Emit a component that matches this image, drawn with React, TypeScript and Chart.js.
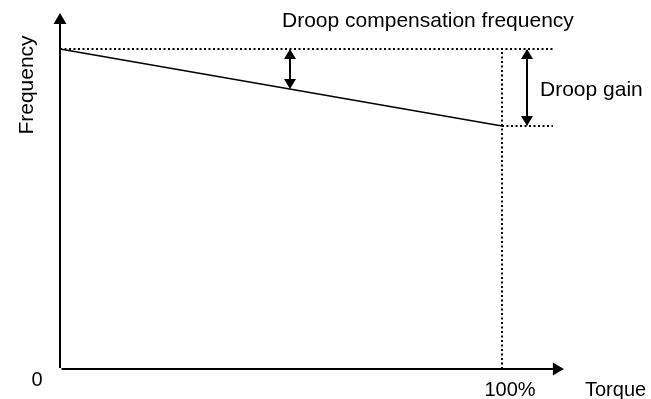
import React, { useEffect, useRef } from "react";
import { Chart, registerables } from "chart.js";

Chart.register(...registerables);

// Data (torque in %, frequency in arbitrary units of the y scale)
const droopTorque = [0, 100];
const droopFrequency = [80, 60.75];
const compensationFrequency = 80; // no-load frequency (dotted reference)
const fullLoadTorque = 100;
const dottedEndTorque = 111.5;
const xMax = 114;
const yMax = 89;
const gainArrowTorques = [52, 105.6];

const xTickLabels = ["0", "100%"];
const xAxisTitle = "Torque";
const yAxisTitle = "Frequency";
const topLabel = "Droop compensation frequency";
const gainLabel = "Droop gain";

const FONT = '"Liberation Sans", Arial, sans-serif';

function lineAt(t: number) {
  const [t0, t1] = droopTorque;
  const [f0, f1] = droopFrequency;
  return f0 + ((f1 - f0) * (t - t0)) / (t1 - t0);
}

const diagramPlugin = {
  id: "diagram",
  afterDraw(chart: any) {
    const ctx = chart.ctx as CanvasRenderingContext2D;
    const xs = chart.scales.x;
    const ys = chart.scales.y;
    const X = (v: number) => xs.getPixelForValue(v);
    const Y = (v: number) => ys.getPixelForValue(v);
    ctx.save();
    ctx.fillStyle = "#000";
    ctx.strokeStyle = "#000";

    // Y axis with arrow
    const x0 = X(0);
    const y0 = Y(0);
    const yTop = Y(yMax);
    ctx.lineWidth = 2;
    ctx.beginPath();
    ctx.moveTo(x0, y0 - 1);
    ctx.lineTo(x0, yTop + 8);
    ctx.stroke();
    ctx.beginPath();
    ctx.moveTo(x0, yTop);
    ctx.lineTo(x0 - 6.5, yTop + 11);
    ctx.lineTo(x0 + 6.5, yTop + 11);
    ctx.closePath();
    ctx.fill();

    // X axis with arrow
    const xRight = X(xMax);
    ctx.lineWidth = 2;
    ctx.beginPath();
    ctx.moveTo(x0 + 1.5, y0);
    ctx.lineTo(xRight - 8, y0);
    ctx.stroke();
    ctx.beginPath();
    ctx.moveTo(xRight, y0);
    ctx.lineTo(xRight - 11, y0 - 6.5);
    ctx.lineTo(xRight - 11, y0 + 6.5);
    ctx.closePath();
    ctx.fill();

    // Double arrows
    const dbl = (t: number, fa: number, fb: number) => {
      const px = Math.round(X(t));
      const ya = Y(fa);
      const yb = Y(fb);
      const head = 10;
      const hw = 6;
      ctx.lineWidth = 2;
      ctx.beginPath();
      ctx.moveTo(px, ya + head - 1);
      ctx.lineTo(px, yb - head + 1);
      ctx.stroke();
      ctx.beginPath();
      ctx.moveTo(px, ya);
      ctx.lineTo(px - hw, ya + head);
      ctx.lineTo(px + hw, ya + head);
      ctx.closePath();
      ctx.fill();
      ctx.beginPath();
      ctx.moveTo(px, yb);
      ctx.lineTo(px - hw, yb - head);
      ctx.lineTo(px + hw, yb - head);
      ctx.closePath();
      ctx.fill();
    };
    dbl(gainArrowTorques[0], compensationFrequency, lineAt(gainArrowTorques[0]));
    dbl(gainArrowTorques[1], compensationFrequency, droopFrequency[1]);

    // Texts
    ctx.textBaseline = "alphabetic";
    ctx.textAlign = "left";
    ctx.font = `21px ${FONT}`;
    ctx.fillText(topLabel, 282, 27);
    ctx.fillText(gainLabel, 540, 96);

    ctx.font = `20px ${FONT}`;
    ctx.textAlign = "center";
    ctx.fillText(xTickLabels[0], x0 - 23, y0 + 17);
    ctx.fillText(xTickLabels[1], X(fullLoadTorque) + 8, y0 + 27);
    ctx.textAlign = "left";
    ctx.fillText(xAxisTitle, 585, y0 + 27);

    ctx.save();
    ctx.font = `21px ${FONT}`;
    ctx.translate(33, 85);
    ctx.rotate(-Math.PI / 2);
    ctx.textAlign = "center";
    ctx.fillText(yAxisTitle, 0, 0);
    ctx.restore();

    ctx.restore();
  },
};

export default function App() {
  const ref = useRef<HTMLCanvasElement | null>(null);

  useEffect(() => {
    if (!ref.current) return;
    const dotted = {
      borderColor: "#000",
      borderWidth: 2,
      borderDash: [2, 2.5],
      pointRadius: 0,
      showLine: true,
      fill: false,
      clip: false as any,
    };
    const chart = new Chart(ref.current, {
      type: "scatter",
      data: {
        datasets: [
          {
            label: "Droop",
            data: droopTorque.map((t, i) => ({ x: t, y: droopFrequency[i] })),
            borderColor: "#000",
            borderWidth: 1.4,
            pointRadius: 0,
            showLine: true,
            fill: false,
            clip: false as any,
          },
          {
            label: "Compensation",
            data: [
              { x: 0, y: compensationFrequency },
              { x: dottedEndTorque, y: compensationFrequency },
            ],
            ...dotted,
          },
          {
            label: "Full load",
            data: [
              { x: fullLoadTorque, y: droopFrequency[1] },
              { x: dottedEndTorque, y: droopFrequency[1] },
            ],
            ...dotted,
          },
          {
            label: "100%",
            data: [
              { x: fullLoadTorque, y: 0 },
              { x: fullLoadTorque, y: compensationFrequency },
            ],
            ...dotted,
          },
        ],
      },
      options: {
        animation: false,
        responsive: false,
        layout: { padding: { left: 60, right: 87.12, top: 13, bottom: 30 } },
        plugins: {
          legend: { display: false },
          tooltip: { enabled: false },
          title: { display: false },
        },
        scales: {
          x: { type: "linear", min: 0, max: xMax, display: false },
          y: { type: "linear", min: 0, max: yMax, display: false },
        },
      },
      plugins: [diagramPlugin],
    });
    return () => chart.destroy();
  }, []);

  return (
    <div
      style={{
        position: "fixed",
        left: 0,
        top: 0,
        width: 651,
        height: 399,
        background: "#fff",
      }}
    >
      <canvas ref={ref} width={651} height={399} />
    </div>
  );
}
